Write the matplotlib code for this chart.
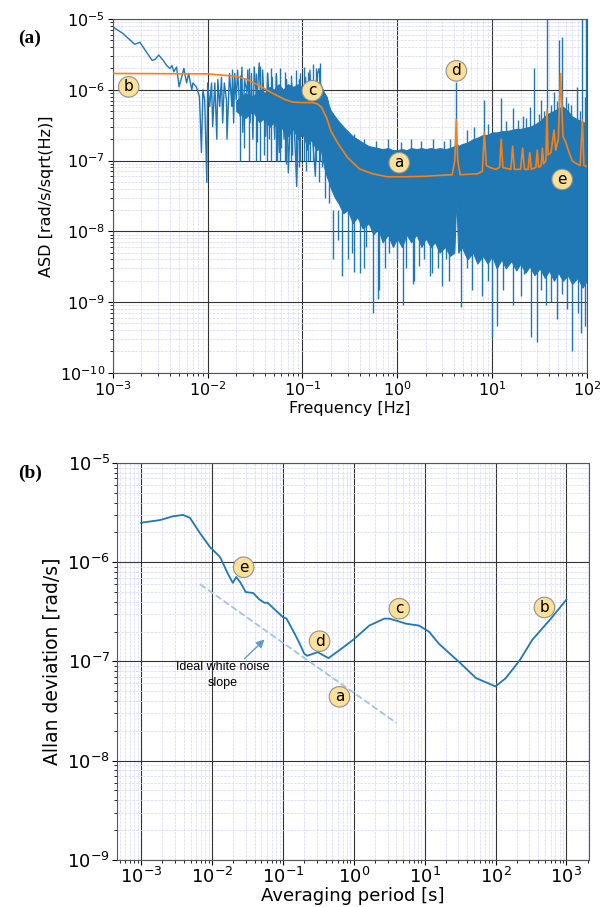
import numpy as np
import matplotlib
matplotlib.use("Agg")
import matplotlib.pyplot as plt
from matplotlib.ticker import LogLocator, NullFormatter

# ---- (a) ASD spectrum ----
# low frequency part (single trace)
lf_freq = [1.0e-3, 1.27e-3, 1.7e-3, 1.93e-3, 2.3e-3, 2.6e-3, 2.8e-3, 3.05e-3, 3.4e-3, 3.7e-3,
           4.0e-3, 4.2e-3, 4.4e-3, 4.7e-3, 5.0e-3, 5.5e-3, 5.6e-3, 6.0e-3, 6.3e-3, 6.8e-3,
           7.0e-3, 7.6e-3, 8.2e-3, 8.6e-3, 8.9e-3, 9.3e-3, 9.8e-3, 1.0e-2, 1.05e-2, 1.1e-2,
           1.13e-2, 1.19e-2, 1.25e-2, 1.28e-2, 1.34e-2, 1.4e-2, 1.44e-2, 1.5e-2, 1.58e-2, 1.6e-2,
           1.7e-2, 1.8e-2, 1.83e-2, 1.88e-2, 1.93e-2, 2.0e-2, 2.07e-2, 2.2e-2, 2.3e-2, 2.35e-2,
           2.45e-2, 2.6e-2, 2.65e-2, 2.8e-2, 2.9e-2, 3.0e-2, 3.1e-2, 3.3e-2, 3.5e-2, 3.7e-2,
           3.8e-2, 4.1e-2, 4.3e-2, 4.6e-2, 4.8e-2, 5.1e-2, 5.3e-2, 5.7e-2, 6.1e-2, 6.4e-2,
           6.8e-2, 7.1e-2, 7.7e-2, 8.3e-2, 8.7e-2, 9.3e-2, 0.1, 0.108, 0.113, 0.12,
           0.128, 0.137, 0.144, 0.15, 0.163, 0.17, 0.18, 0.2, 0.21, 0.23]
lf_asd = [7.7e-6, 6.3e-6, 4.4e-6, 4.7e-6, 3.3e-6, 2.6e-6, 2.7e-6, 3.1e-6, 2.6e-6, 2.2e-6,
          2.0e-6, 2.2e-6, 1.8e-6, 2.1e-6, 1.1e-6, 1.8e-6, 2.0e-6, 1.25e-6, 1.7e-6, 1.0e-6,
          1.25e-6, 1.1e-6, 8e-7, 1.3e-7, 1.0e-6, 7.2e-7, 4.9e-8, 1.25e-6, 5.8e-7, 1.25e-6,
          3.0e-7, 1.25e-6, 2.0e-7, 1.4e-6, 5.8e-7, 1.5e-6, 3.4e-7, 1.25e-6, 7.2e-7, 2.0e-7,
          1.7e-6, 5.8e-7, 1.9e-6, 3.4e-7, 1.7e-6, 7.2e-7, 1.9e-6, 4.2e-7, 2.1e-6, 2.5e-7,
          1.4e-6, 9e-7, 1.9e-6, 3.4e-7, 1.7e-6, 2.0e-7, 2.1e-6, 6.5e-7, 2.4e-6, 3.8e-7,
          1.9e-6, 2.2e-7, 1.7e-6, 3.4e-7, 1.5e-6, 2.0e-7, 1.7e-6, 1.3e-7, 1.0e-6, 2.0e-7,
          1.4e-6, 6.7e-8, 1.25e-6, 2.0e-7, 4.3e-8, 1.4e-6, 2.5e-7, 1.5e-6, 1.4e-7, 1.9e-6,
          2.0e-7, 6e-8, 1.7e-6, 2.0e-6, 2.0e-7, 5.8e-7, 6.7e-8, 3.4e-7, 3.9e-8, 2.0e-7]

# dense part of the spectrum: upper / lower edge of the solid band
band_freq = [0.02, 0.025, 0.03, 0.035, 0.04, 0.045, 0.05, 0.056, 0.063, 0.07,
             0.08, 0.09, 0.1, 0.112, 0.125, 0.14, 0.155, 0.17, 0.18, 0.19,
             0.2, 0.22, 0.24, 0.27, 0.3, 0.34, 0.38, 0.43, 0.5, 0.56,
             0.63, 0.7, 0.8, 0.9, 1.0, 1.12, 1.26, 1.4, 1.6, 1.8,
             2.0, 2.25, 2.5, 2.8, 3.2, 3.6, 4.0, 4.2, 4.4, 4.8,
             5.5, 6.3, 7.0, 8.0, 9.0, 10, 11.2, 12.6, 14, 16,
             18, 20, 22.5, 25, 28, 32, 36, 40, 45, 50,
             56, 63, 70, 80, 90, 100]
band_hi = [7e-7, 9e-7, 8e-7, 1.0e-6, 9e-7, 1.1e-6, 1.0e-6, 1.2e-6, 1.0e-6, 1.2e-6,
           1.1e-6, 1.2e-6, 1.1e-6, 1.3e-6, 1.1e-6, 1.3e-6, 1.2e-6, 9e-7, 8e-7, 6e-7,
           5e-7, 4.2e-7, 3.6e-7, 3.0e-7, 2.6e-7, 2.2e-7, 2.0e-7, 1.8e-7, 1.6e-7, 1.55e-7,
           1.5e-7, 1.45e-7, 1.5e-7, 1.4e-7, 1.4e-7, 1.45e-7, 1.4e-7, 1.5e-7, 1.45e-7, 1.5e-7,
           1.45e-7, 1.5e-7, 1.45e-7, 1.5e-7, 1.45e-7, 1.5e-7, 1.6e-7, 1.8e-7, 1.6e-7, 1.7e-7,
           1.8e-7, 2.0e-7, 2.1e-7, 2.3e-7, 2.3e-7, 2.5e-7, 2.5e-7, 2.6e-7, 2.6e-7, 2.7e-7,
           2.8e-7, 2.8e-7, 2.9e-7, 3.0e-7, 3.2e-7, 3.6e-7, 4.2e-7, 4.7e-7, 5e-7, 5.5e-7,
           5.8e-7, 5e-7, 4.2e-7, 3.8e-7, 3.5e-7, 3.4e-7]
band_lo = [5e-7, 4e-7, 5e-7, 3.5e-7, 4e-7, 3e-7, 3.5e-7, 2.5e-7, 3e-7, 2.2e-7,
           2.8e-7, 2e-7, 2.4e-7, 1.6e-7, 2e-7, 1.4e-7, 1.5e-7, 8e-8, 6e-8, 5e-8,
           4e-8, 3e-8, 2.5e-8, 1.8e-8, 2e-8, 1.3e-8, 1.6e-8, 1.1e-8, 1.3e-8, 9e-9,
           1.1e-8, 7e-9, 9e-9, 6e-9, 8e-9, 6e-9, 9e-9, 7e-9, 9e-9, 6e-9,
           8e-9, 6e-9, 7e-9, 5e-9, 6e-9, 4.5e-9, 5e-9, 3e-8, 5e-9, 6e-9,
           4e-9, 5e-9, 3.5e-9, 4.5e-9, 3.5e-9, 4.5e-9, 3e-9, 4e-9, 3e-9, 3.8e-9,
           2.8e-9, 3.5e-9, 2.6e-9, 3.2e-9, 2.4e-9, 3e-9, 2.2e-9, 2.8e-9, 2e-9, 2.6e-9,
           2e-9, 2.4e-9, 1.8e-9, 2.2e-9, 1.6e-9, 2e-9]

# downward spikes below the band (from 2e-8)
down_freq = [0.21, 0.24, 0.26, 0.33, 0.35, 0.4, 0.47, 0.55, 0.62, 0.65,
             0.82, 1.0, 1.15, 1.45, 1.5, 1.7, 2.2, 2.3, 3.0, 3.5,
             4.7, 6.2, 7.8, 10, 11.3, 16.5, 26, 30, 37, 48,
             70, 87, 95, 0.3, 0.45, 0.75, 1.25, 1.9, 2.7, 3.3,
             5.5, 9, 13, 20, 22, 33, 42, 55, 62, 80]
down_val = [4e-9, 7.6e-9, 2.3e-9, 5e-9, 2.7e-9, 2.6e-9, 6e-9, 7e-10, 1.1e-9, 1.5e-9,
            5e-9, 4e-9, 9e-10, 1.8e-9, 2e-9, 3.2e-9, 2.3e-9, 2.6e-9, 1.7e-9, 2e-9,
            8.5e-10, 1.5e-9, 1.2e-9, 3.2e-10, 4.6e-10, 9e-10, 3.2e-10, 2.7e-10, 9e-10, 5.7e-10,
            2e-10, 3.7e-10, 4.6e-10, 4e-9, 3e-9, 3e-9, 3e-9, 4e-9, 3e-9, 4e-9,
            3e-9, 2e-9, 1.5e-9, 1.2e-9, 2.5e-9, 1.5e-9, 1e-9, 1.3e-9, 8e-10, 7e-10]
down_start = 2e-8

# dips in the 0.02 - 0.2 Hz region (from 5e-7)
dip_freq = [0.024, 0.033, 0.039, 0.044, 0.054, 0.06, 0.067, 0.078, 0.092, 0.11,
            0.12, 0.15, 0.16, 0.175, 0.19]
dip_val = [1.5e-7, 1.8e-7, 1.2e-7, 2e-7, 1e-7, 1.5e-7, 9e-8, 1.2e-7, 8e-8, 7e-8,
           1e-7, 5e-8, 8e-8, 3e-8, 2.5e-8]
dip_start = 5e-7

# upward spikes above the band (from 1e-7)
up_freq = [4.2, 8.3, 12.5, 16.5, 21, 25, 28, 33, 38, 45, 51, 55, 64, 79, 90, 95, 97,
           0.35, 0.45, 0.6, 0.8, 1.1, 1.4, 1.8, 2.4, 3.1, 3.6, 5.5, 6.5, 9,
           14, 19, 23, 31, 35, 42, 48, 60, 68, 85,
           0.022, 0.027, 0.032, 0.036, 0.042, 0.047, 0.052, 0.058, 0.066, 0.075,
           0.085, 0.095, 0.105, 0.115, 0.13, 0.14, 0.155]
up_val = [1.3e-6, 7.2e-7, 7.7e-7, 5.5e-7, 4.2e-7, 5.8e-7, 2e-6, 7.2e-7, 1.2e-5, 9.3e-7,
          5e-6, 5.6e-6, 6.5e-7, 1.1e-6, 1.2e-5, 8e-7, 1.2e-5,
          2.4e-7, 2e-7, 1.9e-7, 2e-7, 1.8e-7, 2e-7, 1.9e-7, 2e-7, 1.9e-7, 2e-7,
          2.7e-7, 3e-7, 3.3e-7, 3.6e-7, 3.8e-7, 4e-7, 4.5e-7, 5e-7, 6e-7, 7e-7,
          8e-7, 6e-7, 5e-7,
          1.6e-6, 2e-6, 1.7e-6, 2.2e-6, 1.8e-6, 2e-6, 1.6e-6, 2e-6, 1.8e-6, 1.6e-6,
          1.9e-6, 1.7e-6, 2.1e-6, 1.8e-6, 2.3e-6, 2.0e-6, 2.4e-6]
up_start = 1e-7

# smoothed ASD (orange)
avg_freq = [1e-3, 0.01, 0.02, 0.026, 0.035, 0.048, 0.065, 0.079, 0.1, 0.128,
            0.145, 0.16, 0.18, 0.2, 0.24, 0.3, 0.4, 0.55, 0.78, 1.2,
            2.0, 3.0, 3.8, 4.05, 4.2, 4.35, 4.6, 7.0, 7.9, 8.3,
            8.7, 9.5, 11, 12, 12.5, 13, 15.8, 16.5, 17.2, 20,
            21, 22, 24, 25, 26, 29, 30, 31, 33, 34,
            35, 37, 38, 39, 42, 45, 47, 50, 53, 56,
            60, 65, 70, 75, 85, 90, 93, 100]
avg_asd = [1.7e-6, 1.68e-6, 1.55e-6, 1.4e-6, 1.15e-6, 9e-7, 7.3e-7, 6.7e-7, 6.6e-7, 6.6e-7,
           6.3e-7, 5.6e-7, 4e-7, 2.6e-7, 1.7e-7, 1.1e-7, 7.6e-8, 6.5e-8, 5.9e-8, 5.9e-8,
           6.0e-8, 6.2e-8, 6.3e-8, 1.0e-7, 3.8e-7, 1.0e-7, 6.3e-8, 6.5e-8, 7e-8, 2.5e-7,
           8.5e-8, 8e-8, 7.5e-8, 8e-8, 2.0e-7, 8e-8, 7.5e-8, 1.6e-7, 7.5e-8, 7.5e-8,
           1.5e-7, 7.5e-8, 7.5e-8, 1.3e-7, 7.5e-8, 8e-8, 1.4e-7, 8e-8, 8.5e-8, 1.5e-7,
           9e-8, 1.0e-7, 5.2e-7, 1.2e-7, 1.3e-7, 2.7e-7, 1.4e-7, 2.0e-7, 1.7e-6, 2.2e-7,
           1.8e-7, 1.3e-7, 1.0e-7, 9.3e-8, 8.5e-8, 3.8e-7, 8.5e-8, 8.2e-8]

# ---- (b) Allan deviation ----
tau = [1e-3, 1.85e-3, 2.8e-3, 3.9e-3, 4.9e-3, 6.8e-3, 9.4e-3, 1.3e-2, 1.43e-2, 1.67e-2,
       1.97e-2, 2.2e-2, 2.5e-2, 3.0e-2, 3.8e-2, 4.7e-2, 5.5e-2, 6.1e-2, 8.2e-2, 0.1,
       0.113, 0.147, 0.17, 0.2, 0.22, 0.31, 0.44, 0.63, 0.96, 1.66,
       2.7, 3.2, 5.5, 8.3, 11.5, 16, 31, 53, 100, 140,
       220, 330, 630, 1000]
adev = [2.5e-6, 2.66e-6, 2.9e-6, 3.0e-6, 2.8e-6, 1.96e-6, 1.42e-6, 1.13e-6, 9.8e-7, 7.7e-7,
        6.2e-7, 7.1e-7, 6.3e-7, 5.0e-7, 4.9e-7, 4.2e-7, 3.9e-7, 3.9e-7, 3.2e-7, 2.8e-7,
        2.7e-7, 1.9e-7, 1.55e-7, 1.2e-7, 1.14e-7, 1.24e-7, 1.08e-7, 1.3e-7, 1.63e-7, 2.3e-7,
        2.7e-7, 2.7e-7, 2.4e-7, 2.3e-7, 2.0e-7, 1.5e-7, 9.8e-8, 6.8e-8, 5.6e-8, 6.8e-8,
        1.03e-7, 1.65e-7, 2.8e-7, 4.2e-7]
white_tau = [6.8e-3, 4.0]
white_adev = [6.0e-7, 2.4e-8]

# tick values
asd_xticks = [1e-3, 1e-2, 1e-1, 1e0, 1e1, 1e2]
asd_yticks = [1e-10, 1e-9, 1e-8, 1e-7, 1e-6, 1e-5]
adev_xticks = [1e-3, 1e-2, 1e-1, 1e0, 1e1, 1e2, 1e3]
adev_yticks = [1e-9, 1e-8, 1e-7, 1e-6, 1e-5]

# marker letters
asd_labels = ["b", "c", "d", "a", "e"]
asd_lab_f = [1.47e-3, 0.127, 4.2, 1.05, 55]
asd_lab_v = [1.1e-6, 9.7e-7, 1.85e-6, 9.3e-8, 5.4e-8]
adev_labels = ["e", "d", "c", "b", "a"]
adev_lab_t = [2.8e-2, 0.33, 4.4, 490, 0.63]
adev_lab_v = [8.9e-7, 1.6e-7, 3.4e-7, 3.5e-7, 4.4e-8]

blue = "#1f77b4"
orange = "#ff7f0e"
circ = dict(boxstyle="circle,pad=0.18", fc="#fbe09a", ec="#909090", lw=0.8)


def style_log_axes(ax, xt, yt):
    ax.set_xticks(xt)
    ax.set_yticks(yt)
    for axis in (ax.xaxis, ax.yaxis):
        axis.set_minor_locator(LogLocator(base=10, subs=np.arange(2, 10), numticks=100))
        axis.set_minor_formatter(NullFormatter())
    ax.grid(True, which="minor", color="#d4d4f7", ls="--", lw=0.5)
    ax.grid(True, which="major", color="#333333", lw=0.8)
    ax.set_axisbelow(True)
    for s in ax.spines.values():
        s.set_color("#555555")


fig = plt.figure(figsize=(6.1, 9.07), dpi=100)

# ---------- (a) ----------
ax1 = fig.add_axes([0.185, 0.589, 0.777, 0.390])
ax1.fill_between(band_freq, band_lo, band_hi, color=blue, lw=0.8, zorder=2)
ax1.vlines(down_freq, down_val, down_start, color=blue, lw=1.0, zorder=2)
ax1.vlines(dip_freq, dip_val, dip_start, color=blue, lw=1.0, zorder=2)
ax1.vlines(up_freq, up_start, up_val, color=blue, lw=1.0, zorder=2)
ax1.plot(lf_freq, lf_asd, color=blue, lw=1.0, zorder=2)
ax1.plot(avg_freq, avg_asd, color=orange, lw=1.2, zorder=3)
ax1.set_xscale("log")
ax1.set_yscale("log")
style_log_axes(ax1, asd_xticks, asd_yticks)
ax1.set_xlim(1e-3, 1e2)
ax1.set_ylim(1e-10, 1e-5)
ax1.tick_params(labelsize=11.5, pad=2)
ax1.set_xlabel("Frequency [Hz]", fontsize=11.5, labelpad=1)
ax1.set_ylabel("ASD [rad/s/sqrt(Hz)]", fontsize=11.5)
for t, x, y in zip(asd_labels, asd_lab_f, asd_lab_v):
    ax1.text(x, y, t, ha="center", va="center", fontsize=11, bbox=circ, zorder=5)

# ---------- (b) ----------
ax2 = fig.add_axes([0.192, 0.052, 0.774, 0.4375])
ax2.plot(tau, adev, color=blue, lw=1.3)
ax2.plot(white_tau, white_adev, color="#9ec4ea", ls="--", lw=1.3)
ax2.set_xscale("log")
ax2.set_yscale("log")
style_log_axes(ax2, adev_xticks, adev_yticks)
ax2.set_xlim(4.6e-4, 2.1e3)
ax2.set_ylim(1e-9, 1e-5)
ax2.tick_params(labelsize=13, pad=1.5)
ax2.set_xlabel("Averaging period [s]", fontsize=13, labelpad=0)
ax2.set_ylabel("Allan deviation [rad/s]", fontsize=13.5)
for t, x, y in zip(adev_labels, adev_lab_t, adev_lab_v):
    ax2.text(x, y, t, ha="center", va="center", fontsize=11, bbox=circ, zorder=5)
ax2.annotate("", xy=(5.9e-2, 1.74e-7), xytext=(2.7e-2, 1.02e-7),
             arrowprops=dict(arrowstyle="-|>", color="#5b9bd5", lw=1.0, mutation_scale=12))
ax2.text(1.4e-2, 1.02e-7, "Ideal white noise\nslope", ha="center", va="top",
         fontsize=9, family="Liberation Sans", linespacing=1.5)

fig.text(0.03, 0.953, "(a)", fontsize=14, fontweight="bold", family="Liberation Serif")
fig.text(0.03, 0.473, "(b)", fontsize=14, fontweight="bold", family="Liberation Serif")

fig.savefig("out.png", dpi=100)
